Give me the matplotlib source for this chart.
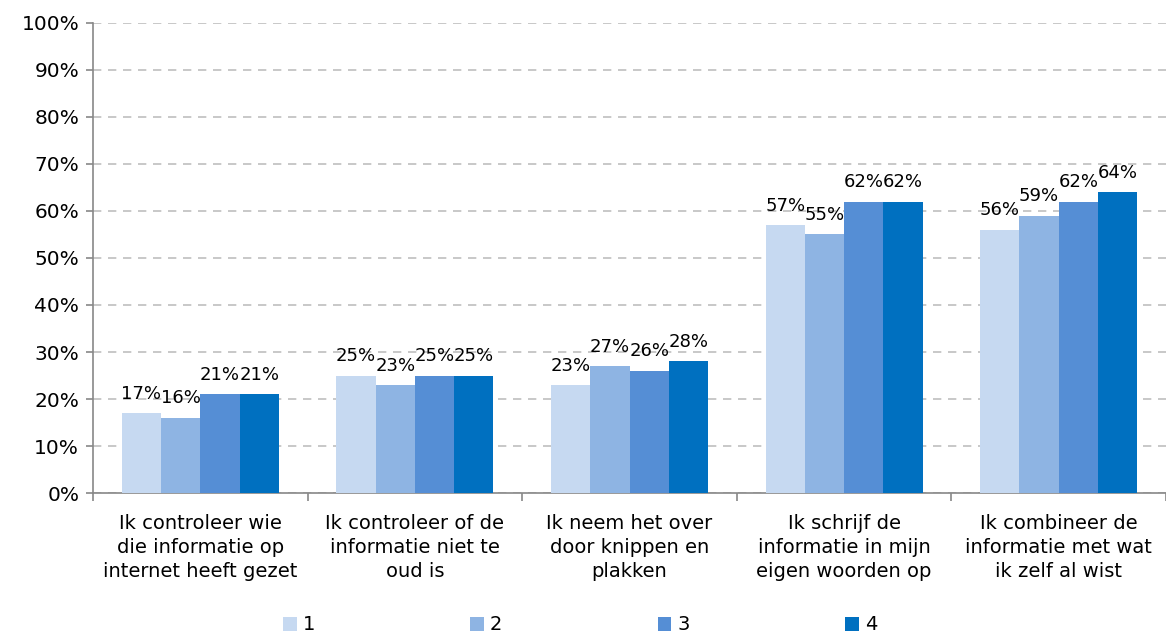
import numpy as np
import matplotlib.pyplot as plt
from matplotlib.ticker import FixedLocator, PercentFormatter

plt.rcParams['font.family'] = ['DejaVu Sans']

categories = [
    'Ik controleer wie\ndie informatie op\ninternet heeft gezet',
    'Ik controleer of de\ninformatie niet te\noud is',
    'Ik neem het over\ndoor knippen en\nplakken',
    'Ik schrijf de\ninformatie in mijn\neigen woorden op',
    'Ik combineer de\ninformatie met wat\nik zelf al wist',
]
series_names = ['1', '2', '3', '4']
values_1 = [17, 25, 23, 57, 56]
values_2 = [16, 23, 27, 55, 59]
values_3 = [21, 25, 26, 62, 62]
values_4 = [21, 25, 28, 62, 64]
colors = ['#C6D9F1', '#8EB4E3', '#558ED5', '#0070C0']

fig = plt.figure(figsize=(11.66, 6.37), dpi=100)
ax = fig.add_axes([0.0798, 0.226, 0.9202, 0.738])

x = np.arange(len(categories))
width = 0.183
all_series = [values_1, values_2, values_3, values_4]
for i, (vals, name, col) in enumerate(zip(all_series, series_names, colors)):
    pos = x + (i - 1.5) * width
    bars = ax.bar(pos, vals, width, color=col, label=name, zorder=3)
    for b, v in zip(bars, vals):
        ax.text(b.get_x() + b.get_width() / 2, v + 2.2, f'{v}%',
                ha='center', va='bottom', fontsize=13, zorder=4)

ax.set_xlim(-0.5, len(categories) - 0.5)
ax.set_ylim(0, 100)
ax.yaxis.set_major_locator(FixedLocator(range(0, 101, 10)))
ax.yaxis.set_major_formatter(PercentFormatter(decimals=0))
ax.yaxis.grid(True, linestyle=(0, (5, 4)), color='#BFBFBF', linewidth=1.2, zorder=0)

# category labels at centres, tick marks between groups
ax.set_xticks(x)
ax.set_xticklabels(categories, fontsize=14, linespacing=1.35)
ax.tick_params(axis='x', which='major', length=0, pad=15)
ax.set_xticks(np.arange(-0.5, len(categories)), minor=True)
ax.tick_params(axis='x', which='minor', length=6, color='#888888', width=1.2)
ax.tick_params(axis='y', length=5, color='#888888', width=1.2, labelsize=14.5, pad=5)

for side in ['top', 'right']:
    ax.spines[side].set_visible(False)
for side in ['left', 'bottom']:
    ax.spines[side].set_color('#888888')
    ax.spines[side].set_linewidth(1.2)

fig.legend(loc='center', bbox_to_anchor=(580 / 1166, 1 - 625 / 637), ncol=4,
           frameon=False, fontsize=14, handlelength=0.7, handleheight=0.7,
           handletextpad=0.3, columnspacing=8.0, borderpad=0)

fig.savefig('out.png', dpi=100)
